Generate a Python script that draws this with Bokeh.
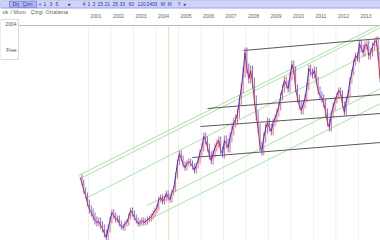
from bokeh.plotting import figure
from bokeh.models import Range1d, ColumnDataSource
from bokeh.embed import file_html
from bokeh.resources import INLINE
from bokeh.core.properties import value

# ---------------- data ----------------
start_year, start_month = 2000, 8          # first monthly bar: Aug 2000
close = [63, 58, 50, 45, 37, 31, 28, 24, 20, 18,
         19, 15, 12, 7, 3, 12, 20, 28, 25, 21,
         22, 17, 14, 13, 17, 18, 24, 30, 27, 23,
         20, 17, 18, 20, 18, 19, 21, 22, 24, 27,
         30, 33, 41, 43, 39, 42, 47, 43, 41, 48,
         52, 65, 78, 87, 82, 76, 73, 77, 79, 77,
         74, 70, 75, 80, 88, 93, 104, 100, 93, 85,
         80, 87, 93, 97, 100, 90, 87, 100, 97, 93,
         103, 110, 118, 121, 127, 140, 152, 168, 188, 172,
         162, 170, 158, 140, 125, 112, 94, 90, 103, 112,
         118, 113, 109, 118, 122, 128, 134, 144, 152, 160,
         156, 152, 164, 176, 170, 152, 142, 135, 130, 136,
         142, 154, 172, 168, 166, 170, 160, 150, 145, 142,
         137, 128, 118, 113, 126, 134, 140, 145, 150, 147,
         136, 128, 140, 147, 160, 168, 178, 185, 182, 197,
         192, 188, 195, 196, 185, 188, 194, 198, 200, 185, 162]
wick_by_year = {2000: 3, 2001: 4, 2002: 3, 2003: 3, 2004: 3, 2005: 3, 2006: 4,
                2007: 5, 2008: 5, 2009: 4, 2010: 4, 2011: 4, 2012: 3, 2013: 4}

years = list(range(2001, 2014))
year_labels = [str(y) for y in years]

# trend lines (decimal year, price)
black_x0 = [2007.89, 2006.29, 2005.98, 2005.62]
black_y0 = [190, 132, 114, 83]
black_x1 = [2013.98, 2013.98, 2013.98, 2013.98]
black_y1 = [202, 146, 127, 98]

green_x0 = [2000.56, 2000.64, 2000.87, 2003.60, 2003.24]
green_y0 = [65, 62, 42, 35, 16]
green_x1 = [2013.98, 2013.98, 2013.98, 2013.98, 2013.98]
green_y1 = [216, 213, 193, 152, 137]

marker_date = 2004.56

toolbar_items = ["Drj", "Çzm", "+", "1", "3", "5", "●", "4", "1", "3", "15", "21", "25",
                 "33", "60", "120", "240", "3", "W", "M", "Y", "◂"]
header_tabs = ["ok", "/", "Mum", "Çizgi", "Ortalama"]
panel_texts = ["2004", "Free"]

# ---------------- layout (pixels, not data) ----------------
toolbar_px = [12, 22, 38, 43, 49, 55, 67, 82, 87, 92, 97, 104, 112, 119, 128, 137, 146,
              154, 160, 167, 177, 183]
tabs_px = [2, 10, 13, 30, 45]

# ---------------- derived ----------------
t = [start_year + (start_month - 1 + i) / 12 + 1 / 24 for i in range(len(close))]
seg = dict(x0=[], y0=[], x1=[], y1=[], c=[])
wick = dict(x=[], lo=[], hi=[], c=[])
for i in range(1, len(close)):
    up = close[i] >= close[i - 1]
    col = "#3434e6" if up else "#e5242f"
    seg["x0"].append(t[i - 1]); seg["y0"].append(close[i - 1])
    seg["x1"].append(t[i]); seg["y1"].append(close[i]); seg["c"].append(col)
    e = wick_by_year[int(t[i])]
    wick["x"].append(t[i])
    wick["lo"].append(min(close[i], close[i - 1]) - e)
    wick["hi"].append(max(close[i], close[i - 1]) + e)
    wick["c"].append("#e5242f" if up else "#3434e6")

X0, X1 = 1997.09, 2013.98
px = 22.5  # pixels per year


def xp(pix):
    return X0 + pix / px


p = figure(width=380, height=240, x_range=Range1d(X0, X1), y_range=Range1d(0, 240),
           output_backend="svg", toolbar_location=None, min_border=0)
p.axis.visible = False
p.grid.visible = False
p.outline_line_color = None
p.background_fill_color = "white"

# year grid
for y in years:
    p.segment(x0=[y], y0=[0], x1=[y], y1=[215], line_color="#f0f0f0", line_width=1)
p.segment(x0=[marker_date], y0=[0], x1=[marker_date], y1=[215], line_color="#efdfbf", line_width=1)

# trend lines
p.segment(x0=green_x0, y0=green_y0, x1=green_x1, y1=green_y1, line_color="#a6e3a6", line_width=1)
p.segment(x0=black_x0, y0=black_y0, x1=black_x1, y1=black_y1, line_color="#5a5a5a", line_width=1)

# price bars
p.segment(x0="x", y0="lo", x1="x", y1="hi", line_color="c", line_width=0.8, line_alpha=0.85,
          source=ColumnDataSource(wick))
p.segment(x0="x0", y0="y0", x1="x1", y1="y1", line_color="c", line_width=1.0,
          source=ColumnDataSource(seg))

# header
font = value("Liberation Sans")
p.quad(left=[X0], right=[X1], bottom=[215], top=[240], fill_color="white", line_color=None)
p.quad(left=[X0], right=[X1], bottom=[232.5], top=[240], fill_color="#cfd3f7", line_color="#9aa0e6")
p.quad(left=[xp(9)], right=[xp(36)], bottom=[233.2], top=[239.3], fill_color="#b3baf0",
       line_color="#8088dc")
p.text(x=[xp(v) for v in toolbar_px], y=[236.2] * len(toolbar_items), text=toolbar_items,
       text_font=font, text_font_size="5px", text_baseline="middle", text_color="#2b3798")

# left info panel
p.quad(left=[X0], right=[xp(18)], bottom=[181], top=[221], fill_color="white",
       line_color="#dadaea")
p.text(x=[xp(16)] * 2, y=[217, 191], text=panel_texts, text_font=font,
       text_font_size="5px", text_baseline="middle", text_align="right", text_color="#555555")

p.text(x=[xp(v) for v in tabs_px], y=[232] * len(header_tabs), text=header_tabs, text_font=font,
       text_font_size="5.5px", text_baseline="top", text_color="#666666")
p.text(x=[y + 2 / px for y in years], y=[224.5] * len(years), text=year_labels,
       text_font=font, text_font_size="5px", text_baseline="middle", text_color="#666666")
p.segment(x0=[xp(18)], y0=[215], x1=[X1], y1=[215], line_color="#bdbdbd", line_width=1)

open("out.html", "w").write(file_html(p, INLINE))
